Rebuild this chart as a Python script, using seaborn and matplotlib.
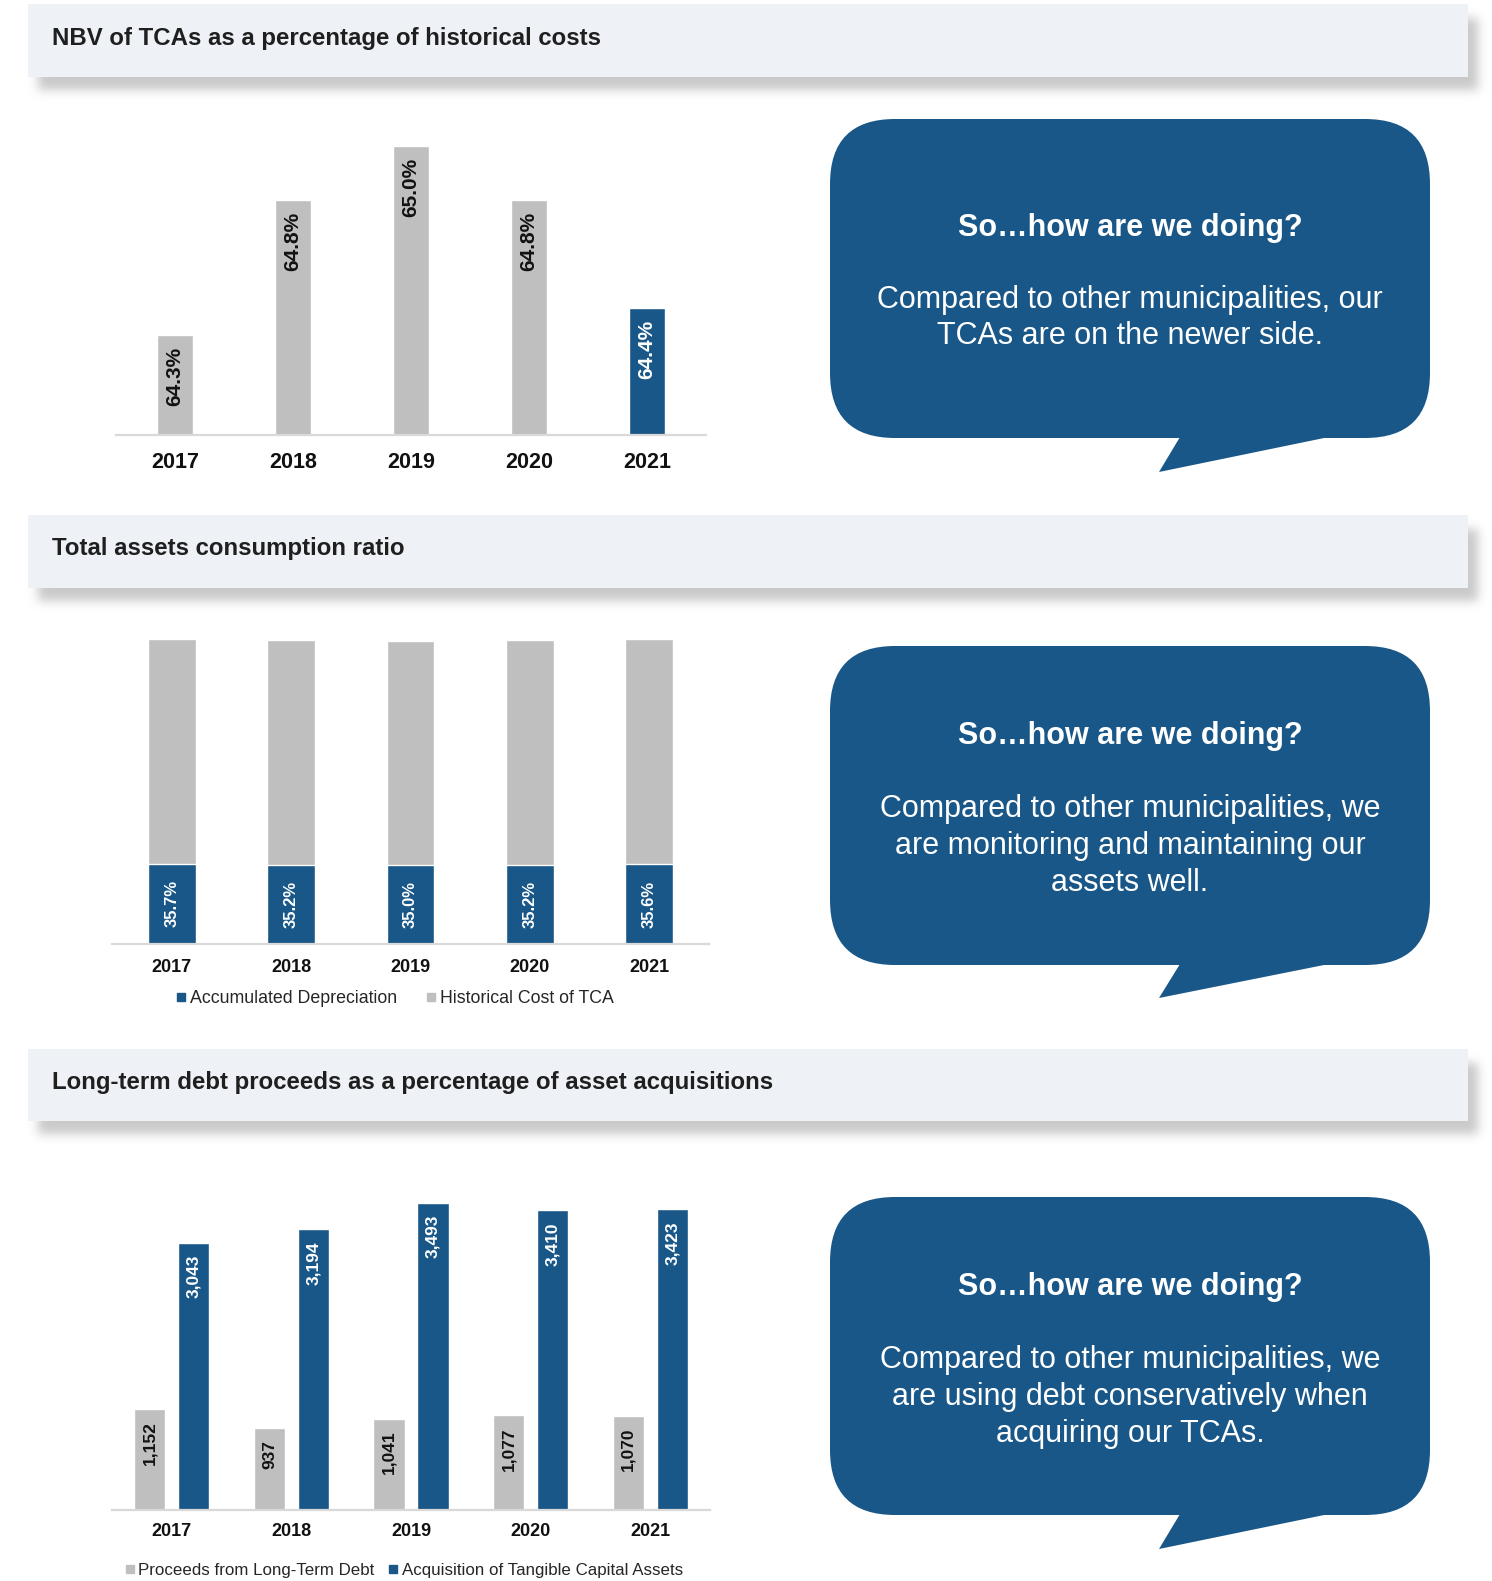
import numpy as np
import pandas as pd
import matplotlib
matplotlib.use("Agg")
import matplotlib.pyplot as plt
from matplotlib.patches import FancyBboxPatch, Polygon, Rectangle
from matplotlib.lines import Line2D
import seaborn as sns

# ---- data ----
years = ["2017", "2018", "2019", "2020", "2021"]
nbv_pct = [64.3, 64.8, 65.0, 64.8, 64.4]
accum_dep_pct = [35.7, 35.2, 35.0, 35.2, 35.6]
hist_cost_pct = [100, 100, 100, 100, 100]
ltd_proceeds = [1152, 937, 1041, 1077, 1070]
tca_acquisition = [3043, 3194, 3493, 3410, 3423]

headers = [
    "NBV of TCAs as a percentage of historical costs",
    "Total assets consumption ratio",
    "Long-term debt proceeds as a percentage of asset acquisitions",
]
bubble_title = "So\u2026how are we doing?"
bubble_bodies = [
    "Compared to other municipalities, our\nTCAs are on the newer side.",
    "Compared to other municipalities, we\nare monitoring and maintaining our\nassets well.",
    "Compared to other municipalities, we\nare using debt conservatively when\nacquiring our TCAs.",
]
legend2 = ["Accumulated Depreciation", "Historical Cost of TCA"]
legend3 = ["Proceeds from Long-Term Debt", "Acquisition of Tangible Capital Assets"]

BLUE = "#195788"
GRAY = "#bfbfbf"
HEADER_BG = "#eef2f7"
AXIS_LINE = "#d9d9d9"

sns.set_theme(style="white")
plt.rcParams["font.family"] = ["Liberation Sans", "DejaVu Sans"]

W, H = 1492, 1581
fig = plt.figure(figsize=(W / 100, H / 100), dpi=100, facecolor="white")


def rect(x0, y0, x1, y1):
    return [x0 / W, 1 - y1 / H, (x1 - x0) / W, (y1 - y0) / H]


# ---- page layer in pixel coordinates ----
bg = fig.add_axes([0, 0, 1, 1])
bg.set_xlim(0, W)
bg.set_ylim(H, 0)
bg.axis("off")

header_boxes = [(28, 4, 1468, 77), (28, 515, 1468, 588), (28, 1049, 1468, 1121)]

# soft drop shadow behind the header bands
mask = np.zeros((H, W))
for x0, y0, x1, y1 in header_boxes:
    mask[y0 + 14:y1 + 13, x0 + 10:x1 + 10] = 1.0
sigma = 5
k = np.arange(-3 * sigma, 3 * sigma + 1)
w = np.exp(-0.5 * (k / sigma) ** 2)
w /= w.sum()
for axis in (0, 1):
    acc = np.zeros_like(mask)
    for kk, ww in zip(k, w):
        acc += ww * np.roll(mask, kk, axis=axis)
    mask = acc
shadow = np.zeros((H, W, 4))
shadow[..., :3] = 0.58
shadow[..., 3] = mask * 0.5
bg.imshow(shadow, extent=(0, W, H, 0), zorder=0, interpolation="bilinear")

header_text_y = [39, 548, 1083]
for (x0, y0, x1, y1), ty, txt in zip(header_boxes, header_text_y, headers):
    bg.add_patch(Rectangle((x0, y0), x1 - x0, y1 - y0, facecolor=HEADER_BG,
                           edgecolor="none", zorder=1))
    bg.text(52, ty, txt, fontsize=17.3, fontweight="bold", color="#1f1f1f",
            va="center", ha="left", zorder=2)

# speech bubbles
bubbles = [(119, 438, 472), (646, 965, 998), (1197, 1515, 1549)]
title_y = [228, 736, 1287]
body_y = [318, 846, 1397]
for (top, bot, tip), ty, by, body in zip(bubbles, title_y, body_y, bubble_bodies):
    bg.add_patch(FancyBboxPatch((830, top), 600, bot - top,
                                boxstyle="round,pad=0,rounding_size=65",
                                facecolor=BLUE, edgecolor="none", zorder=1))
    bg.add_patch(Polygon([(1180, bot - 1), (1159, tip), (1329, bot - 1)],
                         closed=True, facecolor=BLUE, edgecolor="none", zorder=1))
    bg.text(1130, ty, bubble_title, fontsize=22, fontweight="bold", color="white",
            ha="center", va="center", zorder=2)
    bg.text(1130, by, body, fontsize=22, color="white", ha="center", va="center",
            linespacing=1.29, zorder=2)


def style_axis(ax, tick_size, pad):
    sns.despine(ax=ax, left=True, top=True, right=True)
    ax.spines["bottom"].set_color(AXIS_LINE)
    ax.spines["bottom"].set_linewidth(1.6)
    ax.set_yticks([])
    ax.set_xlabel("")
    ax.set_ylabel("")
    ax.set_facecolor("none")
    ax.tick_params(axis="x", length=0, pad=pad, labelsize=tick_size,
                   labelcolor="#111111")
    for lbl in ax.get_xticklabels():
        lbl.set_fontweight("bold")
    ax.set_xlim(-0.5, 4.5)


# ---- chart 1: NBV as % of historical cost ----
ax1 = fig.add_axes(rect(116, 100, 706, 435))
df1 = pd.DataFrame({"year": years, "nbv": nbv_pct})
colors1 = [GRAY] * 4 + [BLUE]
sns.barplot(data=df1, x="year", y="nbv", hue="year", palette=colors1,
            legend=False, width=0.31, saturation=1, ax=ax1)
ax1.set_ylim(63.93, 65.17)
style_axis(ax1, 15.5, 12)
for i, v in enumerate(nbv_pct):
    ax1.annotate(f"{v:.1f}%", (i, v), xytext=(0, -12), textcoords="offset pixels",
                 rotation=90, ha="center", va="top", fontsize=15,
                 fontweight="bold", color="white" if colors1[i] == BLUE else "#111111")

# ---- chart 2: accumulated depreciation vs historical cost ----
ax2 = fig.add_axes(rect(112, 630, 709, 944))
totals = [d + c for d, c in zip(accum_dep_pct, hist_cost_pct)]
df2 = pd.DataFrame({"year": years, "total": totals, "dep": accum_dep_pct})
sns.barplot(data=df2, x="year", y="total", color=GRAY, width=0.40,
            saturation=1, ax=ax2)
sns.barplot(data=df2, x="year", y="dep", color=BLUE, width=0.40,
            saturation=1, ax=ax2)
ax2.set_ylim(0, 139.7)
style_axis(ax2, 13, 10.5)
for i, v in enumerate(accum_dep_pct):
    ax2.text(i, v / 2, f"{v:.1f}%", rotation=90, ha="center", va="center",
             fontsize=12, fontweight="bold", color="white")

handles2 = [Line2D([], [], marker="s", linestyle="", markersize=6, color=c)
            for c in (BLUE, GRAY)]
fig.legend(handles2, legend2, loc="center", bbox_to_anchor=(393 / W, 1 - 999 / H),
           ncol=2, frameon=False, fontsize=12.8, handletextpad=0.0,
           columnspacing=1.4, handlelength=1.0, labelcolor="#262626")

# ---- chart 3: long-term debt proceeds vs TCA acquisitions ----
ax3 = fig.add_axes(rect(112, 1190, 710, 1510))
df3 = pd.DataFrame({
    "year": years * 2,
    "amount": ltd_proceeds + tca_acquisition,
    "series": [legend3[0]] * 5 + [legend3[1]] * 5,
})
sns.barplot(data=df3, x="year", y="amount", hue="series", hue_order=legend3,
            palette=[GRAY, BLUE], width=0.736, gap=0.295, saturation=1,
            legend=False, ax=ax3)
ax3.set_ylim(0, 3641)
style_axis(ax3, 13, 9.5)
for container, vals, col in zip(ax3.containers, (ltd_proceeds, tca_acquisition),
                                ("#111111", "white")):
    for bar, v in zip(container, vals):
        ax3.annotate(f"{v:,}", (bar.get_x() + bar.get_width() / 2, v),
                     xytext=(0, -12), textcoords="offset pixels", rotation=90,
                     ha="center", va="top", fontsize=12.5, fontweight="bold", color=col)

handles3 = [Line2D([], [], marker="s", linestyle="", markersize=6, color=c)
            for c in (GRAY, BLUE)]
fig.legend(handles3, legend3, loc="center", bbox_to_anchor=(402 / W, 1 - 1570 / H),
           ncol=2, frameon=False, fontsize=12.2, handletextpad=0.0,
           columnspacing=0.6, handlelength=1.0, labelcolor="#262626")

fig.savefig("out.png", dpi=100, facecolor="white")
